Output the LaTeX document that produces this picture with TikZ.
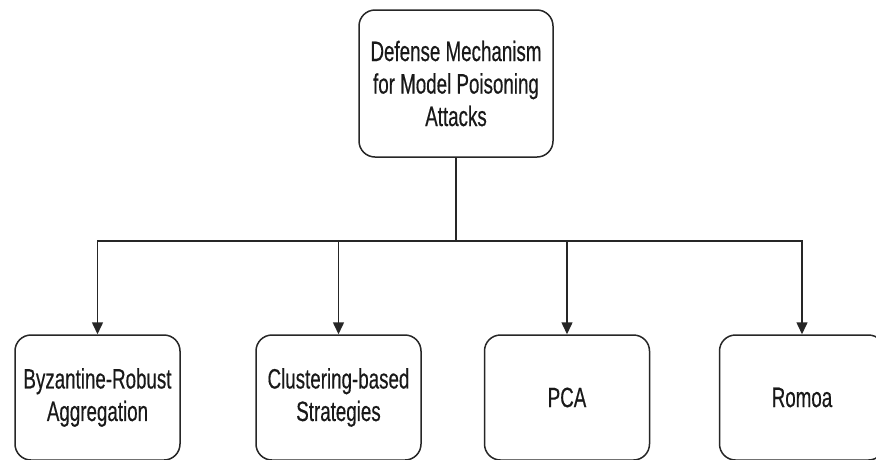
\documentclass[tikz,border=0pt]{standalone}
\usepackage{fontspec}
\setmainfont{Liberation Sans}[FakeStretch=0.67,FakeBold=0.4]
\usetikzlibrary{arrows.meta}
\begin{document}
\begin{tikzpicture}[x=1pt,y=-1pt,
  box/.style={draw=black!85, line width=1.5pt, rounded corners=16pt, fill=white,
    align=center, inner sep=0pt, font=\fontsize{28}{32.5}\selectfont, text=black!90},
  rootbox/.style={box, minimum width=194pt, minimum height=147pt},
  leafbox/.style={box, minimum width=165pt, minimum height=125pt},
  link/.style={draw=black!85, line width=1.5pt},
  arrow/.style={link, -{Triangle[width=11pt,length=12pt]}}]
  \useasboundingbox (0,0) rectangle (876,459);
  \clip (0,0) rectangle (876,459);
  \fill[white] (0,0) rectangle (876,459);

  \node[rootbox] (root) at (456,83.5) {Defense Mechanism\\for Model Poisoning\\Attacks};

  \node[leafbox] (byz)  at (97.5,397.5) {Byzantine-Robust\\Aggregation};
  \node[leafbox] (clu)  at (338.5,397.5) {Clustering-based\\Strategies};
  \node[leafbox] (pca)  at (567,397.5) {PCA};
  \node[leafbox] (rom)  at (802,397.5) {Romoa};

  % distribution bus below the root
  \coordinate (bus) at (456,241);
  \draw[link] (root.south) -- (bus);
  \foreach \child in {byz,clu,pca,rom}
    \draw[arrow] (bus) -| (\child.north);
\end{tikzpicture}
\end{document}
